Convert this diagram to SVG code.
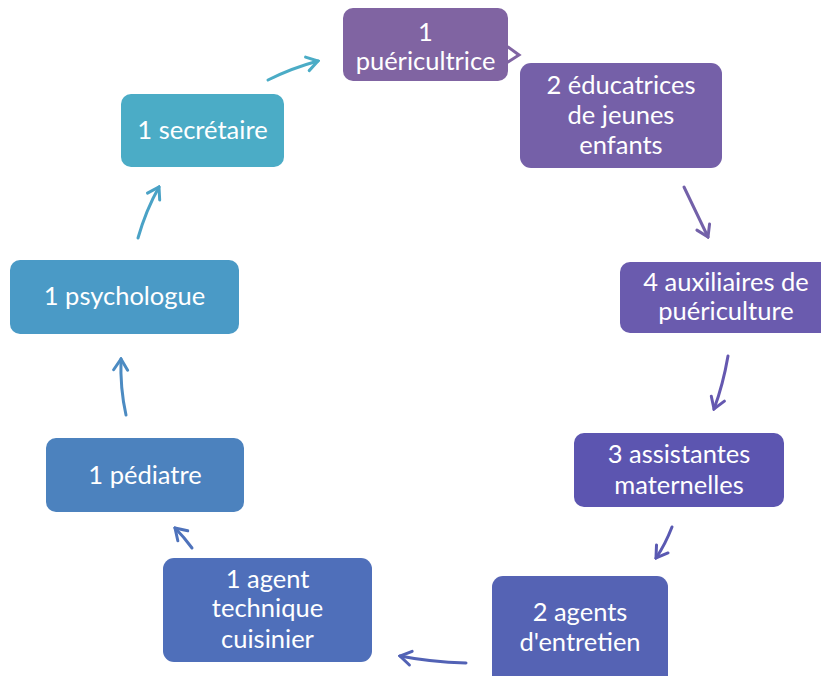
<svg xmlns="http://www.w3.org/2000/svg" width="821" height="676" viewBox="0 0 821 676">
<style>
.box{stroke:none}
.t{font-family:Lato,"Open Sans","Liberation Sans",sans-serif;font-size:25.5px;fill:#fff;text-anchor:middle}
.c{fill:none;stroke-width:3;stroke-linecap:round}
</style>
<defs>
<marker id="a1" markerUnits="userSpaceOnUse" viewBox="-14 -10 16 20" refX="0" refY="0" markerWidth="16" markerHeight="20" orient="auto"><path d="M-11,-7 L0,0 L-11,7" fill="none" stroke="#4BACC6" stroke-width="3" stroke-linecap="round"/></marker>
<marker id="a2" markerUnits="userSpaceOnUse" viewBox="-14 -10 16 20" refX="0" refY="0" markerWidth="16" markerHeight="20" orient="auto"><path d="M-11,-7 L0,0 L-11,7" fill="none" stroke="#7361A9" stroke-width="3" stroke-linecap="round"/></marker>
<marker id="a3" markerUnits="userSpaceOnUse" viewBox="-14 -10 16 20" refX="0" refY="0" markerWidth="16" markerHeight="20" orient="auto"><path d="M-11,-7 L0,0 L-11,7" fill="none" stroke="#6558B0" stroke-width="3" stroke-linecap="round"/></marker>
<marker id="a4" markerUnits="userSpaceOnUse" viewBox="-14 -10 16 20" refX="0" refY="0" markerWidth="16" markerHeight="20" orient="auto"><path d="M-11,-7 L0,0 L-11,7" fill="none" stroke="#5A59B2" stroke-width="3" stroke-linecap="round"/></marker>
<marker id="a5" markerUnits="userSpaceOnUse" viewBox="-14 -10 16 20" refX="0" refY="0" markerWidth="16" markerHeight="20" orient="auto"><path d="M-11,-7 L0,0 L-11,7" fill="none" stroke="#5262B5" stroke-width="3" stroke-linecap="round"/></marker>
<marker id="a6" markerUnits="userSpaceOnUse" viewBox="-14 -10 16 20" refX="0" refY="0" markerWidth="16" markerHeight="20" orient="auto"><path d="M-11,-7 L0,0 L-11,7" fill="none" stroke="#4E72BB" stroke-width="3" stroke-linecap="round"/></marker>
<marker id="a7" markerUnits="userSpaceOnUse" viewBox="-14 -10 16 20" refX="0" refY="0" markerWidth="16" markerHeight="20" orient="auto"><path d="M-11,-7 L0,0 L-11,7" fill="none" stroke="#4C8BC2" stroke-width="3" stroke-linecap="round"/></marker>
<marker id="a8" markerUnits="userSpaceOnUse" viewBox="-14 -10 16 20" refX="0" refY="0" markerWidth="16" markerHeight="20" orient="auto"><path d="M-11,-7 L0,0 L-11,7" fill="none" stroke="#4AA2C6" stroke-width="3" stroke-linecap="round"/></marker>
</defs>
<rect width="821" height="676" fill="#fff"/>
<g id="connectors">
<path class="c" d="M508,47 L519,55 L508,62" stroke="#8064A2" stroke-width="2.5"/>
<path class="c" d="M268,80 Q292,68 318,61" stroke="#4BACC6" marker-end="url(#a1)"/>
<path class="c" d="M684,187 Q696,212 708,237" stroke="#7361A9" marker-end="url(#a2)"/>
<path class="c" d="M728,356 Q723,385 714,409" stroke="#6558B0" marker-end="url(#a3)"/>
<path class="c" d="M672,527 Q665,545 656,558" stroke="#5A59B2" marker-end="url(#a4)"/>
<path class="c" d="M466,663 Q430,662 400,656" stroke="#5262B5" marker-end="url(#a5)"/>
<path class="c" d="M192,548 Q184,537 175,528" stroke="#4E72BB" marker-end="url(#a6)"/>
<path class="c" d="M126,415 Q120,388 121,359" stroke="#4C8BC2" marker-end="url(#a7)"/>
<path class="c" d="M138,238 Q146,210 159,187" stroke="#4AA2C6" marker-end="url(#a8)"/>
</g>
<g id="n1"><rect class="box" x="343" y="8" width="165" height="73" rx="10" fill="#8064A2"/><text class="t" x="425.5" y="41">1</text><text class="t" x="425.5" y="70">puéricultrice</text></g>
<g id="n2"><rect class="box" x="520" y="63" width="202" height="105" rx="11" fill="#7560A8"/><text class="t" x="621" y="94">2 éducatrices</text><text class="t" x="621" y="124">de jeunes</text><text class="t" x="621" y="154">enfants</text></g>
<g id="n3"><rect class="box" x="620" y="262" width="212" height="71" rx="10" fill="#6A5BAE"/><text class="t" x="726" y="291">4 auxiliaires de</text><text class="t" x="726" y="320">puériculture</text></g>
<g id="n4"><rect class="box" x="574" y="433" width="210" height="74" rx="10" fill="#5C55B0"/><text class="t" x="679" y="463">3 assistantes</text><text class="t" x="679" y="494">maternelles</text></g>
<g id="n5"><rect class="box" x="492" y="576" width="176" height="110" rx="11" fill="#5563B4"/><text class="t" x="580" y="621">2 agents</text><text class="t" x="580" y="651">d'entretien</text></g>
<g id="n6"><rect class="box" x="163" y="558" width="209" height="104" rx="11" fill="#4F6FBA"/><text class="t" x="267.5" y="588">1 agent</text><text class="t" x="267.5" y="617">technique</text><text class="t" x="267.5" y="648">cuisinier</text></g>
<g id="n7"><rect class="box" x="46" y="438" width="198" height="74" rx="10" fill="#4C82BE"/><text class="t" x="145" y="484">1 pédiatre</text></g>
<g id="n8"><rect class="box" x="10" y="260" width="229" height="74" rx="10" fill="#4A9AC6"/><text class="t" x="124.5" y="305">1 psychologue</text></g>
<g id="n9"><rect class="box" x="121" y="94" width="163" height="73" rx="10" fill="#4BACC6"/><text class="t" x="202.5" y="139">1 secrétaire</text></g>
</svg>
